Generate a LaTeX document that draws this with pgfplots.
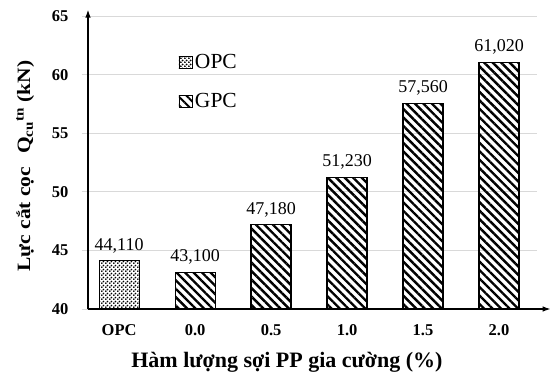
\documentclass[border=0pt]{standalone}
\usepackage{fontspec}
\setmainfont{Liberation Serif}
\usepackage{pgfplots}
\pgfplotsset{compat=1.18}
\usetikzlibrary{patterns,patterns.meta,arrows.meta}
\pgfdeclarepatternformonly{mydots}{\pgfpointorigin}{\pgfpoint{3.6pt}{3.6pt}}{\pgfpoint{3.6pt}{3.6pt}}{%
  \pgfpathcircle{\pgfpoint{0.9pt}{0.9pt}}{1.05pt}
  \pgfpathcircle{\pgfpoint{2.7pt}{2.7pt}}{1.05pt}
  \pgfusepath{fill}}
\begin{document}
\begin{tikzpicture}
\begin{axis}[
  scale only axis, width=449pt, height=293pt,
  xmin=-0.41, xmax=5.5, ymin=40, ymax=65,
  axis line style={draw=none},
  clip=false,
  ytick={40,45,...,65},
  ytick pos=left,
  ymajorgrids, grid style={draw=black!15, line width=0.8pt},
  tick align=outside, major tick length=6pt,
  ytick style={draw=black!15, line width=0.8pt},
  xtick={0,...,5}, xticklabels={OPC,0.0,0.5,1.0,1.5,2.0},
  xtick style={draw=none}, xtick pos=left,
  xticklabel style={yshift=-6pt},
  yticklabel style={xshift=-10pt},
  ticklabel style={font=\bfseries\fontsize{16.5}{16.5}\selectfont},
  /pgf/number format/assume math mode=true,
  ylabel={Lực cắt cọc\hspace{0.6em}Q\textsubscript{cu}\textsuperscript{tn} (kN)},
  ylabel style={at={(axis description cs:-0.14,0.488)}, anchor=center, yscale=0.875, font=\bfseries\fontsize{21.5}{21.5}\selectfont},
  xlabel={Hàm lượng sợi PP gia cường (\%)},
  xlabel style={at={(axis description cs:0.443,-0.198)}, anchor=base, font=\bfseries\fontsize{22}{22}\selectfont},
  legend style={at={(axis description cs:0.2,0.876)}, anchor=north west, draw=none, fill=none,
    font=\fontsize{21.5}{21.5}\selectfont, row sep=19pt, inner sep=0pt},
  legend cell align=left,
  nodes near coords,
  every node near coord/.append style={yshift=4pt, font=\fontsize{18}{18}\selectfont, /pgf/number format/.cd, fixed, fixed zerofill, precision=3, use comma, 1000 sep={}},
]
\addplot[ybar, bar width=40pt, bar shift=0pt, draw=black, line width=1.2pt,
  pattern=mydots,
  legend image code/.code={\draw[draw=black, line width=0.9pt, pattern=mydots] (0pt,-6pt) rectangle (13pt,6pt);}]
  coordinates {(0,44.11)};
\addlegendentry{OPC}
\addplot[ybar, bar width=40pt, bar shift=0pt, draw=black, line width=1.2pt,
  pattern={Lines[angle=-45,distance=6pt,line width=2.4pt]},
  legend image code/.code={\draw[draw=black, line width=0.9pt, pattern={Lines[angle=-45,distance=6pt,line width=2pt]}] (0pt,-6pt) rectangle (13pt,6pt);}]
  coordinates {(1,43.10) (2,47.18) (3,51.23) (4,57.56) (5,61.02)};
\addlegendentry{GPC}
\draw[-{Latex[length=8pt,width=5.5pt]}, line width=1.3pt] (axis cs:-0.41,40) -- (axis cs:5.68,40);
\draw[-{Latex[length=8pt,width=5.5pt]}, line width=1.3pt] (axis cs:-0.41,40) -- (axis cs:-0.41,65.55);
\end{axis}
\pgfresetboundingbox
\path (-88pt,-67pt) rectangle (466pt,309pt);
\end{tikzpicture}
\end{document}
